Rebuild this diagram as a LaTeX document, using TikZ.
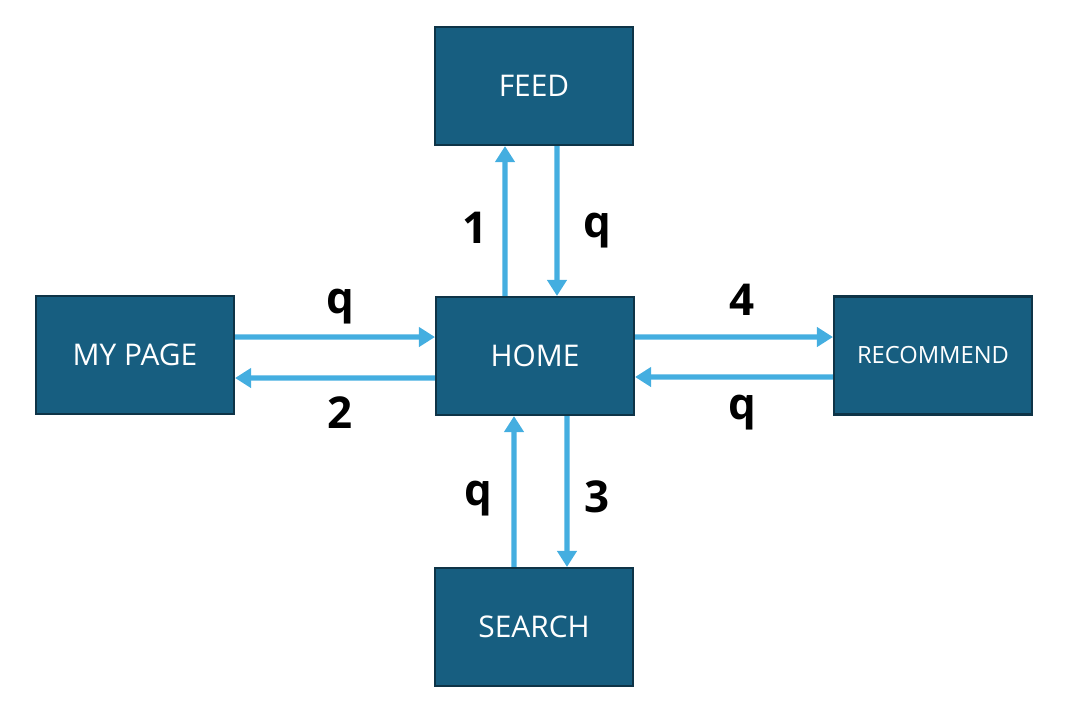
\documentclass[tikz,border=0pt]{standalone}
\usepackage{fontspec}
\setmainfont{Open Sans}
\usetikzlibrary{arrows.meta}

\definecolor{boxblue}{RGB}{23,94,128}
\definecolor{boxedge}{RGB}{14,52,71}
\definecolor{flowblue}{RGB}{68,174,224}

\begin{document}
\begin{tikzpicture}[x=0.02cm, y=-0.02cm,
  page/.style={draw=boxedge, line width=1.2pt, fill=boxblue, text=white,
    minimum width=3.96cm, minimum height=2.36cm, inner sep=0pt,
    font=\fontsize{17}{19}\selectfont},
  flow/.style={-{Triangle[width=0.38cm, length=0.32cm]}, flowblue, line width=2.9pt},
  num/.style={text=black, inner sep=0pt, font=\fontsize{25}{27}\selectfont\bfseries}]

\useasboundingbox (0,0) rectangle (1074,714);

\node[page] (home) at (535, 356) {HOME};
\node[page] (feed) at (534, 86) {FEED};
\node[page] (mypage) at (135, 355) {MY PAGE};
\node[page, font=\fontsize{13.5}{15}\selectfont] (recommend) at (933, 355.5) {RECOMMEND};
\node[page] (search) at (534, 627) {SEARCH};

% home <-> feed
\draw[flow] ([xshift=-0.6cm]home.north) -- ([xshift=-0.58cm]feed.south)
  node[num, midway, xshift=-0.6cm, yshift=-0.14cm] (n1) {1};
\draw[flow] ([xshift=0.46cm]feed.south) -- ([xshift=0.44cm]home.north)
  node[num, midway, xshift=0.8cm, yshift=-0.2cm] (q1) {q};

% mypage <-> home
\draw[flow] ([yshift=0.36cm]mypage.east) -- ([yshift=0.38cm]home.west)
  node[num, midway, xshift=0.1cm, yshift=0.6cm] (q2) {q};
\draw[flow] ([yshift=-0.44cm]home.west) -- ([yshift=-0.46cm]mypage.east)
  node[num, midway, xshift=0.1cm, yshift=-0.7cm] (n2) {2};

% home <-> recommend
\draw[flow] ([yshift=0.38cm]home.east) -- ([yshift=0.37cm]recommend.west)
  node[num, midway, xshift=0.17cm, yshift=0.74cm] (n4) {4};
\draw[flow] ([yshift=-0.43cm]recommend.west) -- ([yshift=-0.42cm]home.east)
  node[num, midway, xshift=0.17cm, yshift=-0.72cm] (q3) {q};

% search <-> home
\draw[flow] ([xshift=-0.4cm]search.north) -- ([xshift=-0.42cm]home.south)
  node[num, midway, xshift=-0.72cm, yshift=-0.14cm] (q4) {q};
\draw[flow] ([xshift=0.64cm]home.south) -- ([xshift=0.66cm]search.north)
  node[num, midway, xshift=0.6cm, yshift=-0.1cm] (n3) {3};

\end{tikzpicture}
\end{document}
